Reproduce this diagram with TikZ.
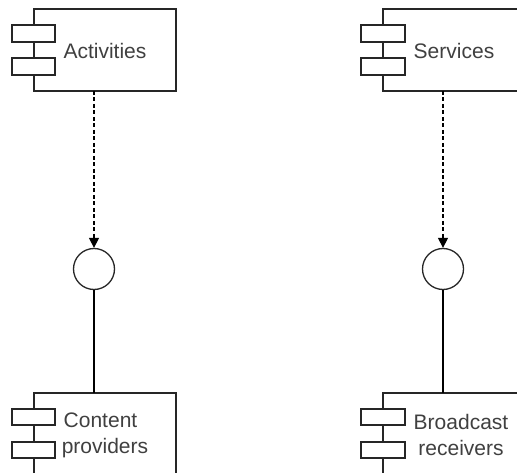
\documentclass[tikz,border=0pt]{standalone}
\usepackage{fontspec}
\setmainfont{Liberation Sans}
\usetikzlibrary{arrows.meta}
\tikzset{
  body/.style={draw=black!85, line width=1.3pt, fill=white},
  tab/.style={draw=black!85, line width=1.3pt, fill=white},
  iface/.style={draw=black!85, line width=1.3pt, fill=white, circle, minimum size=41pt, inner sep=0pt},
  label/.style={font=\fontsize{21pt}{26pt}\selectfont, text=black!75, align=center, inner sep=0pt},
  depends/.style={draw=black, line width=1.4pt, dash pattern=on 4pt off 2.5pt, -{Triangle[length=10pt,width=10pt]}},
  realizes/.style={draw=black, line width=1.4pt},
}
\begin{document}
\begin{tikzpicture}[x=1pt,y=-1pt]
\useasboundingbox (0,0) rectangle (517,473);
\begin{scope}
\clip (0,0) rectangle (517,473);

% component: Activities
\draw[body] (34,9) rectangle (176,91);
\draw[tab] (12,25) rectangle (55,42);
\draw[tab] (12,58) rectangle (55,75);
\coordinate (actB) at (94,91);
\node[label] (act) at (105,51) {Activities};

% component: Services
\draw[body] (383,9) rectangle (525,91);
\draw[tab] (361,25) rectangle (405,42);
\draw[tab] (361,58) rectangle (405,75);
\coordinate (srvB) at (443,91);
\node[label] (srv) at (454,51) {Services};

% component: Content providers
\draw[body] (34,393) rectangle (176,475);
\draw[tab] (12,409) rectangle (55,425);
\draw[tab] (12,442) rectangle (55,458);
\coordinate (cpT) at (94,393);
\node[label] (cp) at (105,435) {Content\kern9pt\\providers};

% component: Broadcast receivers
\draw[body] (383,393) rectangle (525,475);
\draw[tab] (361,409) rectangle (405,425);
\draw[tab] (361,442) rectangle (405,458);
\coordinate (brT) at (443,393);
\node[label] (br) at (461,435) {Broadcast\\receivers};

% provided interfaces
\node[iface] (i1) at (94,269) {};
\node[iface] (i2) at (443,269) {};

% connectors
\draw[depends] (actB) -- (i1.north);
\draw[depends] (srvB) -- (i2.north);
\draw[realizes] (i1.south) -- (cpT);
\draw[realizes] (i2.south) -- (brT);
\end{scope}
\end{tikzpicture}
\end{document}
